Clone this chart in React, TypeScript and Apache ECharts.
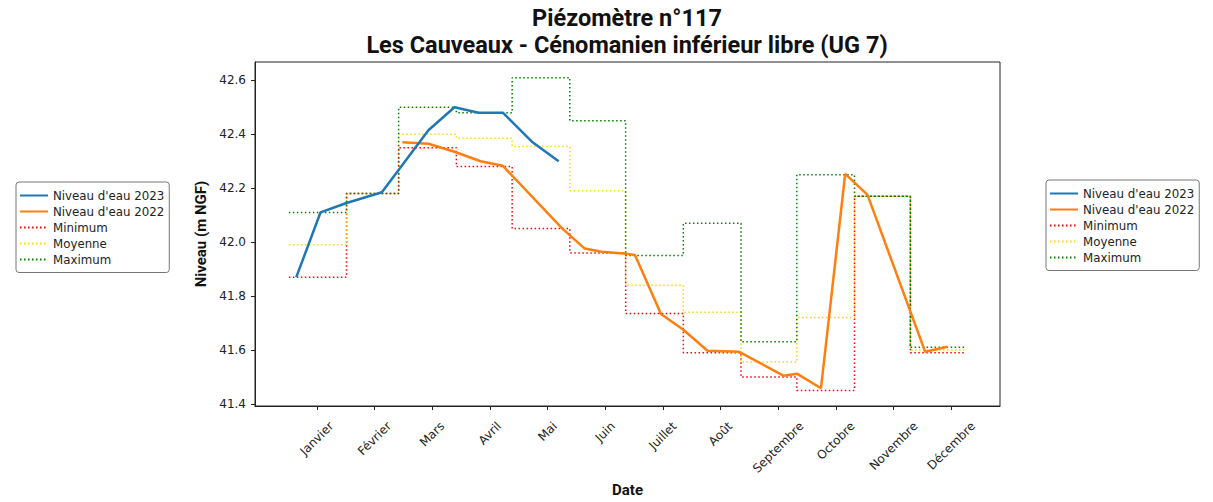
import React, { useEffect, useRef } from 'react';
import * as echarts from 'echarts';

// ---------- data ----------
const MONTHS = ['Janvier', 'Février', 'Mars', 'Avril', 'Mai', 'Juin', 'Juillet', 'Août', 'Septembre', 'Octobre', 'Novembre', 'Décembre'];
// day-of-year positions of the month tick labels
const MONTH_TICK_DAYS = [15, 46, 77, 108, 139, 170, 201, 232, 263, 294, 325, 356];
// day-of-year of each month's first day, and last day of the year
const MONTH_START_DAYS = [0, 31, 59, 90, 120, 151, 181, 212, 243, 273, 304, 334];
const LAST_DAY = 364;

const Y_TICKS = [41.4, 41.6, 41.8, 42.0, 42.2, 42.4, 42.6];

// monthly statistics (m NGF)
const MIN_VALUES = [41.87, 42.18, 42.35, 42.28, 42.05, 41.96, 41.735, 41.59, 41.5, 41.45, 42.17, 41.59];
const MEAN_VALUES = [41.99, 42.18, 42.4, 42.385, 42.355, 42.19, 41.84, 41.74, 41.555, 41.72, 42.17, 41.6];
const MAX_VALUES = [42.11, 42.18, 42.5, 42.48, 42.61, 42.45, 41.95, 42.07, 41.63, 42.25, 42.17, 41.61];

// 2023 measurements (day of year, level)
const DAYS_2023 = [4, 17, 31, 50, 75, 89, 102, 115, 131, 145];
const LEVELS_2023 = [41.87, 42.11, 42.145, 42.185, 42.415, 42.5, 42.48, 42.48, 42.37, 42.3];

// 2022 measurements (day of year, level)
const DAYS_2022 = [61, 75, 89, 103, 115, 147, 159, 168, 180, 186, 200, 212, 225, 242, 266, 273, 286, 299, 311, 342, 354];
const LEVELS_2022 = [42.37, 42.365, 42.335, 42.3, 42.283, 42.05, 41.976, 41.964, 41.958, 41.952, 41.733, 41.675, 41.597, 41.593, 41.504, 41.512, 41.458, 42.253, 42.175, 41.593, 41.612];

const NAME_2023 = "Niveau d'eau 2023";
const NAME_2022 = "Niveau d'eau 2022";
const NAME_MIN = 'Minimum';
const NAME_MEAN = 'Moyenne';
const NAME_MAX = 'Maximum';

const TITLE_1 = 'Piézomètre n°117';
const TITLE_2 = 'Les Cauveaux - Cénomanien inférieur libre (UG 7)';

// ---------- helpers ----------
const LABEL_FAMILY = 'DejaVu Sans';
const LABEL_SIZE = 12;

function measureText(text: string): number {
  const ctx = document.createElement('canvas').getContext('2d');
  if (!ctx) return text.length * LABEL_SIZE * 0.6;
  ctx.font = `${LABEL_SIZE}px "${LABEL_FAMILY}"`;
  return ctx.measureText(text).width;
}

function stepData(values: number[]) {
  const pts = MONTH_START_DAYS.map((d, i) => [d, values[i]]);
  pts.push([LAST_DAY, values[values.length - 1]]);
  return pts;
}

function makeLegend(left: number, top: number) {
  return {
    left,
    top,
    orient: 'vertical',
    data: [NAME_2023, NAME_2022, NAME_MIN, NAME_MEAN, NAME_MAX],
    itemWidth: 28,
    itemHeight: 12,
    itemGap: 4,
    padding: [7.5, 5, 7, 3],
    borderColor: '#777',
    borderWidth: 1,
    borderRadius: 3,
    backgroundColor: '#fff',
    selectedMode: false,
    itemStyle: { opacity: 0 },
    textStyle: { fontSize: 11.8, fontFamily: LABEL_FAMILY, color: '#222' },
  };
}

export default function App() {
  const ref = useRef<HTMLDivElement>(null);

  useEffect(() => {
    if (!ref.current) return;
    const chart = echarts.init(ref.current, undefined, { renderer: 'svg' });

    const rich: Record<string, any> = {};
    MONTHS.forEach((m, i) => {
      const L = measureText(m);
      rich['m' + i] = {
        fontSize: LABEL_SIZE,
        fontFamily: LABEL_FAMILY,
        color: '#222',
        padding: [L / 2, L / 2, 0, 0],
      };
    });

    const dotted = [1.5, 2.5];
    const titleStyle = {
      fontSize: 23.5,
      fontWeight: 'bold',
      fontFamily: 'Roboto',
      fill: '#111',
      textAlign: 'center',
      textVerticalAlign: 'middle',
    };

    const option: any = {
      animation: false,
      backgroundColor: '#fff',
      graphic: [
        { type: 'text', x: 627, y: 18, style: { ...titleStyle, text: TITLE_1 } },
        { type: 'text', x: 627, y: 44.5, style: { ...titleStyle, text: TITLE_2 } },
      ],
      grid: {
        left: 255,
        top: 62,
        width: 745,
        height: 351,
        show: true,
        borderColor: '#222',
        borderWidth: 1,
        backgroundColor: 'transparent',
      },
      legend: [makeLegend(16, 182), makeLegend(1046, 180)],
      xAxis: {
        type: 'value',
        min: -18.2,
        max: 382.2,
        name: 'Date',
        nameLocation: 'middle',
        nameGap: 65,
        nameTextStyle: { fontSize: 15, fontWeight: 'bold', fontFamily: 'Roboto', color: '#111' },
        axisLine: { show: true, onZero: false, lineStyle: { color: '#222', width: 1 } },
        axisTick: { show: true, customValues: MONTH_TICK_DAYS, length: 4, lineStyle: { color: '#222' } },
        splitLine: { show: false },
        axisLabel: {
          customValues: MONTH_TICK_DAYS,
          interval: 0,
          rotate: 45,
          align: 'center',
          verticalAlign: 'middle',
          margin: 18,
          color: '#222',
          fontSize: LABEL_SIZE,
          fontFamily: LABEL_FAMILY,
          rich,
          formatter: (v: number) => {
            let idx = 0;
            let best = Infinity;
            MONTH_TICK_DAYS.forEach((d, i) => {
              if (Math.abs(d - v) < best) {
                best = Math.abs(d - v);
                idx = i;
              }
            });
            return `{m${idx}|${MONTHS[idx]}}`;
          },
        },
      },
      yAxis: {
        type: 'value',
        min: 41.392,
        max: 42.668,
        name: 'Niveau (m NGF)',
        nameLocation: 'middle',
        nameGap: 40,
        nameTextStyle: { fontSize: 15, fontWeight: 'bold', fontFamily: 'Roboto', color: '#111' },
        axisLine: { show: true, onZero: false, lineStyle: { color: '#222', width: 1 } },
        axisTick: { show: true, customValues: Y_TICKS, length: 4, lineStyle: { color: '#222' } },
        splitLine: { show: false },
        axisLabel: {
          customValues: Y_TICKS,
          margin: 9,
          color: '#222',
          fontSize: LABEL_SIZE,
          fontFamily: LABEL_FAMILY,
          formatter: (v: number) => v.toFixed(1),
        },
      },
      series: [
        {
          name: NAME_MIN,
          type: 'line',
          step: 'end',
          symbol: 'none',
          data: stepData(MIN_VALUES),
          itemStyle: { color: '#ff0000' },
          lineStyle: { color: '#ff0000', width: 1.5, type: dotted },
        },
        {
          name: NAME_MEAN,
          type: 'line',
          step: 'end',
          symbol: 'none',
          data: stepData(MEAN_VALUES),
          itemStyle: { color: '#ffd700' },
          lineStyle: { color: '#ffd700', width: 1.5, type: dotted },
        },
        {
          name: NAME_MAX,
          type: 'line',
          step: 'end',
          symbol: 'none',
          data: stepData(MAX_VALUES),
          itemStyle: { color: '#008000' },
          lineStyle: { color: '#008000', width: 1.5, type: dotted },
        },
        {
          name: NAME_2022,
          type: 'line',
          symbol: 'none',
          data: DAYS_2022.map((d, i) => [d, LEVELS_2022[i]]),
          itemStyle: { color: '#ff7f0e' },
          lineStyle: { color: '#ff7f0e', width: 2.5 },
        },
        {
          name: NAME_2023,
          type: 'line',
          symbol: 'none',
          data: DAYS_2023.map((d, i) => [d, LEVELS_2023[i]]),
          itemStyle: { color: '#1f77b4' },
          lineStyle: { color: '#1f77b4', width: 2.5 },
        },
      ],
    };

    chart.setOption(option);
    return () => chart.dispose();
  }, []);

  return (
    <div
      ref={ref}
      style={{ position: 'fixed', left: 0, top: 0, width: 1213, height: 502, background: '#fff' }}
    />
  );
}
